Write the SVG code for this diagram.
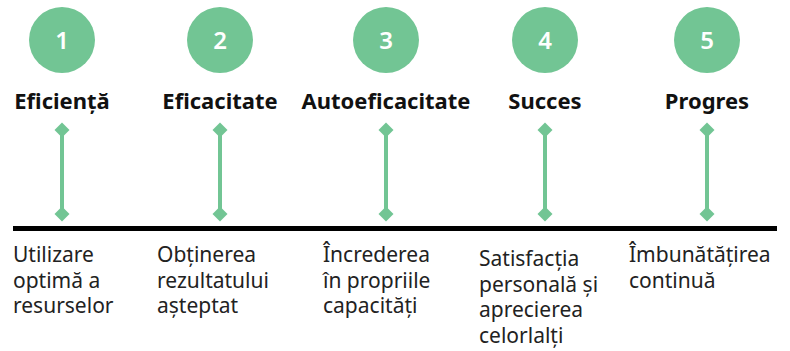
<svg xmlns="http://www.w3.org/2000/svg" width="790" height="351" viewBox="0 0 790 351">
<style>
.c{fill:#72C594}
.n{font-family:"Noto Sans","Liberation Sans",sans-serif;font-size:24px;font-weight:600;fill:#fff;text-anchor:middle}
.t{font-family:"Noto Sans","Liberation Sans",sans-serif;font-size:22px;font-weight:700;fill:#111;text-anchor:middle}
.d{font-family:"Noto Sans","Liberation Sans",sans-serif;font-size:21px;fill:#222}
.v{stroke:#72C594;stroke-width:4;fill:none;marker-start:url(#dia);marker-end:url(#dia)}
</style>
<defs>
<marker id="dia" viewBox="-8 -8 16 16" markerWidth="16" markerHeight="16" markerUnits="userSpaceOnUse" refX="0" refY="0" orient="auto">
<path d="M0,-7.5 L7.5,0 L0,7.5 L-7.5,0 Z" fill="#72C594"/>
</marker>
</defs>
<rect width="790" height="351" fill="#fff"/>
<g id="connectors">
<line class="v" x1="62" y1="130" x2="62" y2="214"/>
<line class="v" x1="220" y1="130" x2="220" y2="214"/>
<line class="v" x1="386" y1="130" x2="386" y2="214"/>
<line class="v" x1="545" y1="130" x2="545" y2="214"/>
<line class="v" x1="707" y1="130" x2="707" y2="214"/>
<line x1="13" y1="228.5" x2="777" y2="228.5" stroke="#000" stroke-width="5"/>
</g>
<g id="node1">
<circle class="c" cx="62" cy="40" r="33"/>
<text class="n" x="62" y="49">1</text>
<text class="t" x="62" y="109">Eficiență</text>
<text class="d" x="13" y="262"><tspan x="13">Utilizare</tspan><tspan x="13" dy="25.5">optimă a</tspan><tspan x="13" dy="25.5">resurselor</tspan></text>
</g>
<g id="node2">
<circle class="c" cx="220" cy="40" r="33"/>
<text class="n" x="220" y="49">2</text>
<text class="t" x="220" y="109">Eficacitate</text>
<text class="d" x="157" y="262"><tspan x="157">Obținerea</tspan><tspan x="157" dy="25.5">rezultatului</tspan><tspan x="157" dy="25.5">așteptat</tspan></text>
</g>
<g id="node3">
<circle class="c" cx="386" cy="40" r="33"/>
<text class="n" x="386" y="49">3</text>
<text class="t" x="386" y="109">Autoeficacitate</text>
<text class="d" x="323" y="262"><tspan x="323">Încrederea</tspan><tspan x="323" dy="25.5">în propriile</tspan><tspan x="323" dy="25.5">capacități</tspan></text>
</g>
<g id="node4">
<circle class="c" cx="545" cy="40" r="33"/>
<text class="n" x="545" y="49">4</text>
<text class="t" x="545" y="109">Succes</text>
<text class="d" x="479" y="266"><tspan x="479">Satisfacția</tspan><tspan x="479" dy="25.5">personală și</tspan><tspan x="479" dy="25.5">aprecierea</tspan><tspan x="479" dy="25.5">celorlalți</tspan></text>
</g>
<g id="node5">
<circle class="c" cx="707" cy="40" r="33"/>
<text class="n" x="707" y="49">5</text>
<text class="t" x="707" y="109">Progres</text>
<text class="d" x="629" y="262"><tspan x="629">Îmbunătățirea</tspan><tspan x="629" dy="25.5">continuă</tspan></text>
</g>
</svg>
